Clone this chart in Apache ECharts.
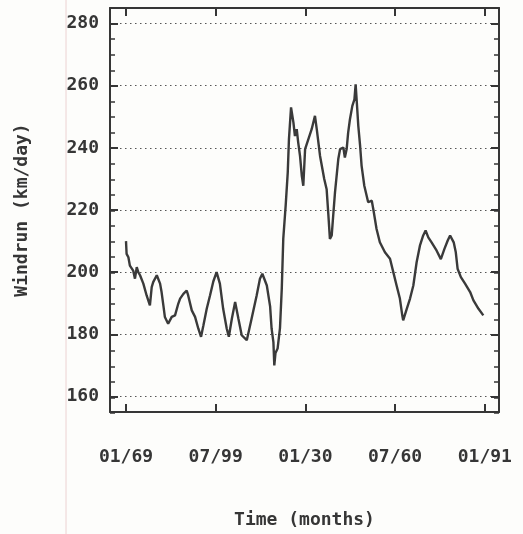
<!DOCTYPE html>
<html><head><meta charset="utf-8">
<script src="https://cdn.jsdelivr.net/npm/echarts@6/dist/echarts.min.js"></script>
<style>html,body{margin:0;padding:0;background:#fdfdfb}#c{width:523px;height:534px}</style>
</head><body><div id="c"></div>
<script>
// Time in months from the first tick (01/69)
const months = [0,0.2,0.8,1.3,2.4,3.0,3.6,4.1,4.7,5.8,6.9,8.0,8.6,9.1,10.3,11.4,11.9,12.5,13.0,14.1,15.3,16.4,17.5,18.1,19.2,20.3,20.8,22.0,23.1,24.2,25.1,25.9,27.0,28.1,29.2,30.3,31.4,32.5,33.7,34.4,35.4,36.5,37.6,38.7,40.4,42.0,43.7,44.8,45.6,47.1,48.2,48.7,49.3,49.6,50.0,50.7,51.5,52.1,52.6,53.4,54.1,54.5,55.2,56.0,56.5,57.1,57.6,58.2,58.8,59.3,59.9,61.0,62.1,63.2,63.8,64.9,66.3,67.1,67.7,68.2,68.8,69.3,69.9,71.0,71.6,72.7,73.2,73.8,74.3,74.9,75.7,76.4,76.8,77.2,77.7,78.3,78.8,79.7,81.0,82.2,82.7,83.8,84.9,86.6,88.3,89.4,90.5,91.6,92.4,92.7,93.9,95.0,96.1,97.2,98.3,99.4,100.2,101.1,102.2,103.9,105.3,106.5,107.6,108.4,109.6,110.3,110.9,112.0,113.4,115.1,116.2,117.9,119.5];
// Windrun (km/day)
const windrun = [210,205.9,204.8,202.1,200.5,197.9,201.6,200,199,196.3,192.5,189.3,195.2,196.8,199,196.3,193.6,189.3,185.6,183.4,185.6,186.1,189.9,191.5,193,194.1,192.5,187.7,185.6,181.8,179.2,182.9,188.2,192.5,197,200,196.3,188.2,181.8,179.2,185,190.4,185,179.7,178.1,185,192.5,197.9,199.5,195.7,189,181.8,177.5,170,174,175.4,182,194.7,210.7,221.4,232.1,242.8,253,248.1,243.8,246,241.7,237.4,231,227.8,239.6,242.8,246,250.3,246,237.4,230,226.7,218.2,210.7,211.8,218.2,225.7,236.4,239.6,240.1,236.9,239.6,244.9,249.2,253.5,255.6,260.4,254.6,247,240.6,234.2,227.8,222.5,223,220.3,213.9,209.6,206.4,204.3,200,195.7,191.5,186.1,184.5,188.2,191.5,195.7,203.2,208.5,211.8,213.4,211.2,209.6,206.9,204.2,207.5,210.2,211.8,209.6,206.4,201.1,198.4,196.3,193.6,190.9,188.2,186.1];
const xTickPos = [0,30,60,90,120];
const xTickLabels = ['01/69','07/99','01/30','07/60','01/91'];
const yTicks = [160,180,200,220,240,260,280];

const ink = '#363636';
const font = {fontFamily:'DejaVu Sans Mono', fontWeight:'bold', fontSize:18, color:ink};
const gridBox = {left:110, right:24, top:8, bottom:121, containLabel:false};
const xMin = -5.35, xMax = 124.75, yMin = 155, yMax = 285;

const chart = echarts.init(document.getElementById('c'), null, {renderer:'canvas'});
chart.setOption({
  backgroundColor:'#fdfdfb',
  animation:false,
  graphic:[{type:'line', shape:{x1:66,y1:0,x2:66,y2:534}, style:{stroke:'#ecd2d2', lineWidth:1}, silent:true, z:-10}],
  grid:[Object.assign({}, gridBox), Object.assign({}, gridBox)],
  xAxis:[
    {type:'value', gridIndex:0, position:'bottom', min:xMin, max:xMax,
     axisLine:{show:true, onZero:false, lineStyle:{color:ink, width:2}},
     axisTick:{show:true, inside:true, length:8, customValues:xTickPos, lineStyle:{color:ink, width:2}},
     axisLabel:Object.assign({show:true, customValues:xTickPos, margin:36,
       formatter:v => xTickLabels[xTickPos.indexOf(v)]}, font),
     splitLine:{show:false},
     name:'Time (months)', nameLocation:'middle', nameGap:99, nameTextStyle:Object.assign({}, font)},
    {type:'value', gridIndex:0, position:'top', min:xMin, max:xMax,
     axisLine:{show:true, onZero:false, lineStyle:{color:ink, width:2}},
     axisTick:{show:true, inside:true, length:8, customValues:xTickPos, lineStyle:{color:ink, width:2}},
     axisLabel:{show:false}, splitLine:{show:false}},
    {type:'value', gridIndex:1, min:xMin, max:xMax, show:false}
  ],
  yAxis:[
    {type:'value', gridIndex:0, position:'left', min:yMin, max:yMax,
     axisLine:{show:true, onZero:false, lineStyle:{color:ink, width:2}},
     axisTick:{show:true, inside:true, length:8, customValues:yTicks, lineStyle:{color:ink, width:2}},
     axisLabel:Object.assign({show:true, customValues:yTicks, margin:11}, font),
     splitLine:{show:true, lineStyle:{color:'#555', width:1, type:[1.5,3.5]}},
     name:'Windrun (km/day)', nameLocation:'middle', nameGap:79, nameTextStyle:Object.assign({}, font)},
    {type:'value', gridIndex:0, position:'right', min:yMin, max:yMax,
     axisLine:{show:true, onZero:false, lineStyle:{color:ink, width:2}},
     axisTick:{show:true, inside:true, length:8, customValues:yTicks, lineStyle:{color:ink, width:2}},
     axisLabel:{show:false}, splitLine:{show:false}},
    {type:'value', gridIndex:1, position:'left', min:yMin, max:yMax, interval:5,
     axisLine:{show:false, onZero:false}, axisTick:{show:true, inside:true, length:5, lineStyle:{color:ink, width:1.5}},
     axisLabel:{show:false}, splitLine:{show:false}},
    {type:'value', gridIndex:1, position:'right', min:yMin, max:yMax, interval:5,
     axisLine:{show:false, onZero:false}, axisTick:{show:true, inside:true, length:5, lineStyle:{color:ink, width:1.5}},
     axisLabel:{show:false}, splitLine:{show:false}}
  ],
  series:[{
    type:'line', xAxisIndex:0, yAxisIndex:0,
    data: months.map((m,i) => [m, windrun[i]]),
    showSymbol:false, symbol:'none',
    lineStyle:{color:'#3a3a3a', width:2.4},
    z:5
  }]
});
</script></body></html>
